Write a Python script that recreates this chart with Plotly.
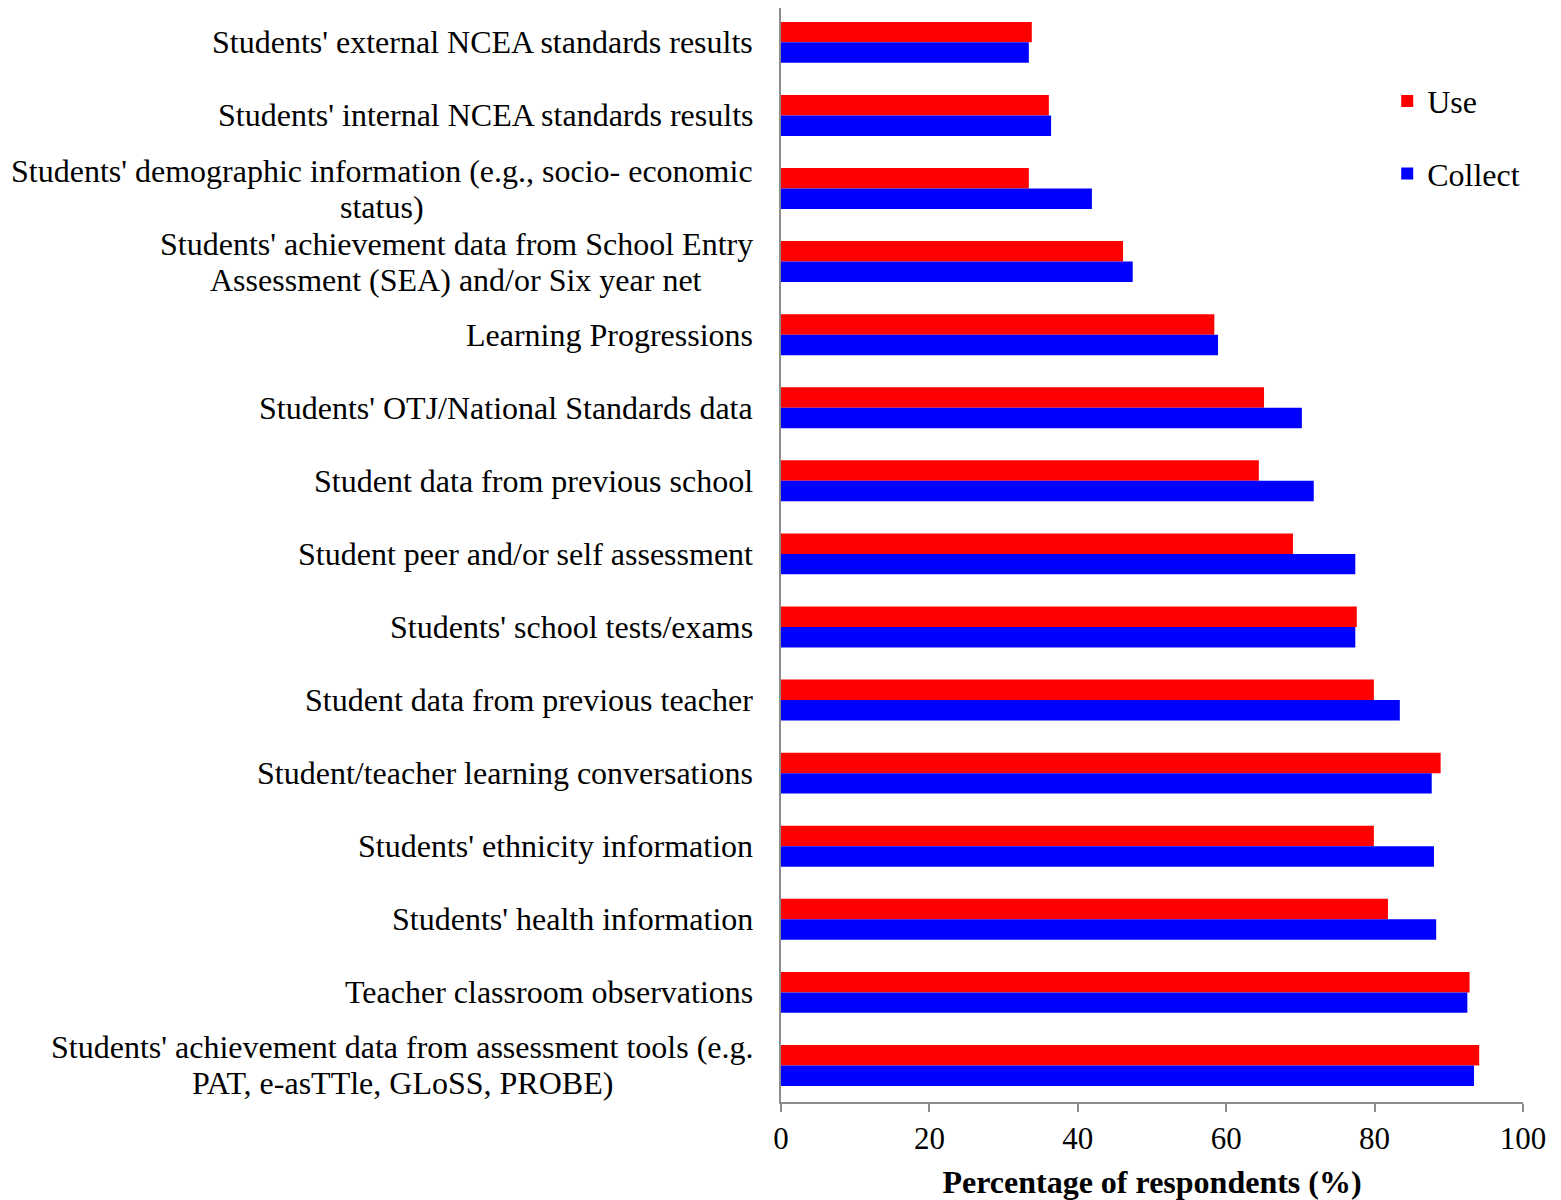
import plotly.graph_objects as go

categories = [
    "Students' external NCEA standards results",
    "Students' internal NCEA standards results",
    "Students' demographic information (e.g., socio- economic<br>status)",
    "Students' achievement data from School Entry<br>Assessment (SEA) and/or Six year net",
    "Learning Progressions",
    "Students' OTJ/National Standards data",
    "Student data from previous school",
    "Student peer and/or self assessment",
    "Students' school tests/exams",
    "Student data from previous teacher",
    "Student/teacher learning conversations",
    "Students' ethnicity information",
    "Students' health information",
    "Teacher classroom observations",
    "Students' achievement data from assessment tools (e.g.<br>PAT, e-asTTle, GLoSS, PROBE)",
]
use_values = [33.8, 36.1, 33.4, 46.1, 58.4, 65.1, 64.4, 69.0, 77.6, 79.9, 88.9, 79.9, 81.8, 92.8, 94.1]
collect_values = [33.4, 36.4, 41.9, 47.4, 58.9, 70.2, 71.8, 77.4, 77.4, 83.4, 87.7, 88.0, 88.3, 92.5, 93.4]
x_ticks = [0, 20, 40, 60, 80, 100]

FONT = "Liberation Serif, Times New Roman, serif"
LABEL_SIZE = 32
LABEL_GAP = 26          # px between label right edge and the axis
LINE_HALF = 18          # half the line spacing for wrapped labels (px)
# horizontal centre (px from the axis) of the second line of wrapped labels
second_line_centre = {2: -399, 3: -325, 14: -379}

ids = list(range(len(categories)))

fig = go.Figure()
fig.add_trace(go.Bar(y=ids, x=use_values, orientation="h", name="Use",
                     marker=dict(color="#ff0000", line=dict(width=0)), legendgroup="u"))
fig.add_trace(go.Bar(y=ids, x=collect_values, orientation="h", name="Collect",
                     marker=dict(color="#0000ff", line=dict(width=0)), legendgroup="c"))

lab_font = dict(family=FONT, size=LABEL_SIZE, color="black")
for i, lab in enumerate(categories):
    parts = lab.split("<br>")
    if len(parts) == 1:
        fig.add_annotation(x=0, xref="paper", y=i, yref="y", text=lab, showarrow=False,
                           xanchor="right", yanchor="middle", xshift=-LABEL_GAP,
                           font=lab_font)
    else:
        fig.add_annotation(x=0, xref="paper", y=i, yref="y", text=parts[0], showarrow=False,
                           xanchor="right", yanchor="middle", xshift=-LABEL_GAP,
                           yshift=LINE_HALF, font=lab_font)
        fig.add_annotation(x=0, xref="paper", y=i, yref="y", text=parts[1], showarrow=False,
                           xanchor="center", yanchor="middle",
                           xshift=second_line_centre[i], yshift=-LINE_HALF,
                           font=lab_font)

fig.update_layout(
    width=1545, height=1192,
    margin=dict(l=773, r=30, t=0, b=98),
    plot_bgcolor="white", paper_bgcolor="white",
    barmode="group", bargap=0.44, bargroupgap=0,
    font=dict(family=FONT, size=32, color="black"),
    legend=dict(x=0.817, y=0.940, xanchor="left", yanchor="top",
                font=dict(family=FONT, size=32), tracegroupgap=28,
                bgcolor="rgba(0,0,0,0)"),
    xaxis=dict(range=[0, 100], tickvals=x_ticks, showgrid=False, zeroline=False,
               showline=True, linecolor="#8c8c8c", linewidth=2,
               ticks="outside", ticklen=8, tickcolor="#8c8c8c", tickwidth=2,
               tickfont=dict(family=FONT, size=31),
               title=dict(text="<b>Percentage of respondents (%)</b>",
                          font=dict(family=FONT, size=32), standoff=18)),
    yaxis=dict(range=[14.5, -0.47], tickvals=ids, showticklabels=False,
               showgrid=False, zeroline=False, showline=True,
               linecolor="#8c8c8c", linewidth=2, ticks=""),
)

fig.write_html("out.html")
